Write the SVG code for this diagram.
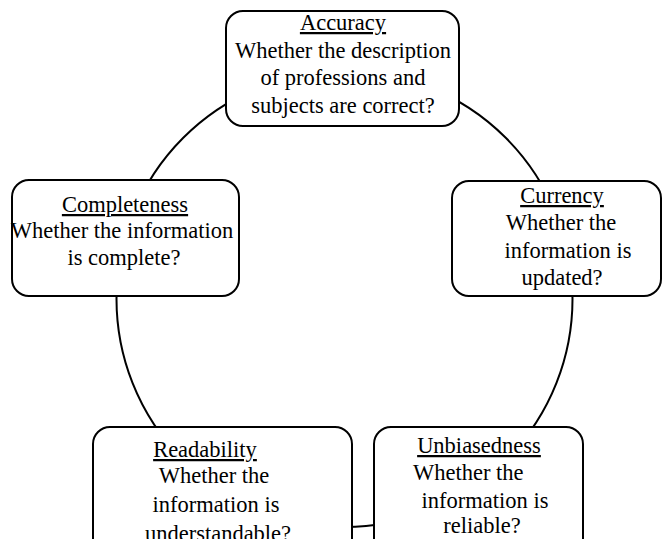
<svg xmlns="http://www.w3.org/2000/svg" width="663" height="539" viewBox="0 0 663 539">
<style>
.box{fill:#fff;stroke:#000;stroke-width:2}
.t{font-family:"Liberation Serif","Times New Roman",serif;font-size:22.5px;fill:#000}
.c{text-anchor:middle}
.u{text-decoration:underline}
.conn{fill:none;stroke:#000;stroke-width:2}
</style>
<rect width="663" height="539" fill="#fff"/>
<g id="connectors">
<circle class="conn" cx="344.5" cy="299" r="228"/>
</g>
<g id="accuracy">
<rect class="box" x="226" y="11" width="233" height="115" rx="17"/>
<text class="t c u" x="343" y="30">Accuracy</text>
<text class="t c" x="343" y="58">Whether the description</text>
<text class="t c" x="343" y="85">of professions and</text>
<text class="t c" x="343" y="113">subjects are correct?</text>
</g>
<g id="completeness">
<rect class="box" x="12" y="180" width="227" height="116" rx="17"/>
<text class="t c u" x="125" y="212">Completeness</text>
<text class="t c" x="122" y="238">Whether the information</text>
<text class="t c" x="124" y="265">is complete?</text>
</g>
<g id="currency">
<rect class="box" x="452" y="181" width="209" height="115" rx="17"/>
<text class="t c u" x="562" y="203">Currency</text>
<text class="t c" x="561" y="230">Whether the</text>
<text class="t c" x="568" y="258">information is</text>
<text class="t c" x="562" y="285">updated?</text>
</g>
<g id="readability">
<rect class="box" x="93" y="427" width="259" height="130" rx="17"/>
<text class="t c u" x="205" y="457">Readability</text>
<text class="t c" x="214" y="483">Whether the</text>
<text class="t c" x="216" y="512">information is</text>
<text class="t c" x="218" y="541">understandable?</text>
</g>
<g id="unbiasedness">
<rect class="box" x="374" y="427" width="209" height="130" rx="17"/>
<text class="t c u" x="479" y="453">Unbiasedness</text>
<text class="t" x="413" y="480">Whether the</text>
<text class="t c" x="485" y="508">information is</text>
<text class="t c" x="482" y="533">reliable?</text>
</g>
</svg>
